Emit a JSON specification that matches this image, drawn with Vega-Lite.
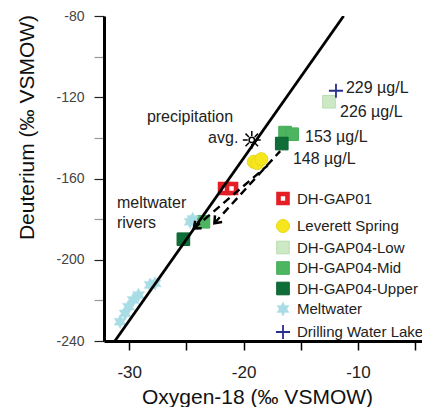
{
  "$schema": "https://vega.github.io/schema/vega-lite/v6.json",
  "width": 318,
  "height": 325,
  "autosize": {"type": "none"},
  "padding": {"left": 104, "top": 16, "right": 0, "bottom": 66},
  "background": "white",
  "config": {
    "view": {"stroke": null},
    "font": "Liberation Sans",
    "axis": {"grid": false, "labelFont": "Liberation Sans", "titleFont": "Liberation Sans"},
    "legend": {"padding": 0, "orient": "none", "legendX": 171, "legendY": 175, "title": null,
      "labelFontSize": 15, "labelFont": "Liberation Sans", "labelColor": "#222",
      "labelOffset": 6, "rowPadding": 3.5, "labelLimit": 300}
  },
  "datasets": {
    "points": [
      {"series": "DH-GAP01", "d18O": -21.66, "dD": -164.9},
      {"series": "DH-GAP01", "d18O": -21.05, "dD": -164.9},
      {"series": "Leverett Spring", "d18O": -19.1, "dD": -151.8},
      {"series": "Leverett Spring", "d18O": -18.8, "dD": -152.4},
      {"series": "Leverett Spring", "d18O": -18.45, "dD": -150.5},
      {"series": "DH-GAP04-Low", "d18O": -12.53, "dD": -122.2},
      {"series": "DH-GAP04-Mid", "d18O": -16.37, "dD": -137.4},
      {"series": "DH-GAP04-Mid", "d18O": -15.75, "dD": -138.2},
      {"series": "DH-GAP04-Mid", "d18O": -23.51, "dD": -181.3},
      {"series": "DH-GAP04-Upper", "d18O": -16.66, "dD": -142.8},
      {"series": "DH-GAP04-Upper", "d18O": -25.26, "dD": -189.9},
      {"series": "Meltwater", "d18O": -24.67, "dD": -181.3},
      {"series": "Meltwater", "d18O": -24.45, "dD": -180.0},
      {"series": "Meltwater", "d18O": -28.17, "dD": -212.4},
      {"series": "Meltwater", "d18O": -27.73, "dD": -211.6},
      {"series": "Meltwater", "d18O": -29.19, "dD": -217.4},
      {"series": "Meltwater", "d18O": -29.65, "dD": -219.8},
      {"series": "Meltwater", "d18O": -30.06, "dD": -223.1},
      {"series": "Meltwater", "d18O": -30.35, "dD": -226.4},
      {"series": "Meltwater", "d18O": -30.79, "dD": -230.5},
      {"series": "Drilling Water Lake", "d18O": -11.92, "dD": -116.8}
    ],
    "mwl": [
      {"d18O": -31.25, "dD": -240},
      {"d18O": -11.25, "dD": -80}
    ],
    "arrows": [
      {"arrow": "A", "pos": "start", "d18O": -16.8, "dD": -146.5},
      {"arrow": "A", "pos": "end", "d18O": -22.55, "dD": -182.0},
      {"arrow": "B", "pos": "start", "d18O": -17.9, "dD": -153.6},
      {"arrow": "B", "pos": "end", "d18O": -24.35, "dD": -184.6}
    ],
    "precip": [
      {"d18O": -19.28, "dD": -141.0}
    ],
    "labels": [
      {"text": "precipitation", "d18O": -28.45, "dD": -129.7},
      {"text": "avg.", "d18O": -23.1, "dD": -140.1},
      {"text": "229 µg/L", "d18O": -11.05, "dD": -115.4},
      {"text": "226 µg/L", "d18O": -11.57, "dD": -127.1},
      {"text": "153 µg/L", "d18O": -14.63, "dD": -139.4},
      {"text": "148 µg/L", "d18O": -15.68, "dD": -150.6},
      {"text": "meltwater", "d18O": -31.07, "dD": -172.1},
      {"text": "rivers", "d18O": -31.07, "dD": -182.1}
    ]
  },
  "layer": [
    {
      "data": {"name": "points"},
      "mark": {"type": "point", "opacity": 1},
      "encoding": {
        "x": {
          "field": "d18O", "type": "quantitative",
          "scale": {"domain": [-32.2, -4.4], "nice": false, "zero": false},
          "axis": {
            "title": "Oxygen-18 (‰ VSMOW)",
            "values": [-30, -25, -20, -15, -10, -5],
            "labelExpr": "datum.value % 10 === 0 ? '' + datum.value : ''",
            "labelFlush": false, "labelOverlap": false,
            "domainColor": "black", "domainWidth": 3,
            "tickColor": "black", "tickWidth": 1.5, "tickSize": 9,
            "labelFontSize": 17, "labelColor": "#222", "labelPadding": 14,
            "titleFontSize": 21, "titleFontWeight": "normal", "titleColor": "#111",
            "titleX": 153, "titleY": 62, "titleBaseline": "alphabetic", "titleAlign": "center"
          }
        },
        "y": {
          "field": "dD", "type": "quantitative",
          "scale": {"domain": [-240, -80], "nice": false, "zero": false},
          "axis": {
            "title": "Deuterium (‰ VSMOW)",
            "values": [-240, -220, -200, -180, -160, -140, -120, -100, -80],
            "labelExpr": "datum.value % 40 === 0 ? '' + datum.value : ''",
            "labelFlush": false, "labelOverlap": false,
            "domainColor": "black", "domainWidth": 3,
            "tickColor": {"condition": {"test": "datum.value % 40 === 0", "value": "#222"}, "value": "#999"},
            "tickWidth": 1.2, "tickSize": 10,
            "labelFontSize": 14, "labelColor": "#444", "labelPadding": 10,
            "titleFontSize": 21, "titleFontWeight": "normal", "titleColor": "#111",
            "titleX": -77, "titleY": 111, "titleBaseline": "middle", "titleAlign": "center", "titleAngle": -90
          }
        },
        "shape": {
          "field": "series", "type": "ordinal",
          "scale": {
            "domain": ["DH-GAP01", "Leverett Spring", "DH-GAP04-Low", "DH-GAP04-Mid", "DH-GAP04-Upper", "Meltwater", "Drilling Water Lake"],
            "range": ["square", "circle", "square", "square", "square",
              "M0,-1L0.275,-0.476L0.866,-0.5L0.55,0L0.866,0.5L0.275,0.476L0,1L-0.275,0.476L-0.866,0.5L-0.55,0L-0.866,-0.5L-0.275,-0.476Z",
              "M-1,0H1M0,-1V1"]
          }
        },
        "fill": {
          "field": "series", "type": "ordinal",
          "scale": {
            "domain": ["DH-GAP01", "Leverett Spring", "DH-GAP04-Low", "DH-GAP04-Mid", "DH-GAP04-Upper", "Meltwater", "Drilling Water Lake"],
            "range": ["#ffffff", "#f5e61e", "#cde8c5", "#4db560", "#0f6e37", "#a9dde6", "transparent"]
          }
        },
        "stroke": {
          "field": "series", "type": "ordinal",
          "scale": {
            "domain": ["DH-GAP01", "Leverett Spring", "DH-GAP04-Low", "DH-GAP04-Mid", "DH-GAP04-Upper", "Meltwater", "Drilling Water Lake"],
            "range": ["#e31e24", "#e8d81a", "#b9dcb0", "#45ad58", "#0b6432", "#a9dde6", "#2a2f8c"]
          }
        },
        "size": {
          "field": "series", "type": "ordinal",
          "scale": {
            "type": "ordinal",
            "domain": ["DH-GAP01", "Leverett Spring", "DH-GAP04-Low", "DH-GAP04-Mid", "DH-GAP04-Upper", "Meltwater", "Drilling Water Lake"],
            "range": [81, 170, 160, 160, 160, 190, 200]
          }
        },
        "strokeWidth": {
          "field": "series", "type": "ordinal",
          "scale": {
            "type": "ordinal",
            "domain": ["DH-GAP01", "Leverett Spring", "DH-GAP04-Low", "DH-GAP04-Mid", "DH-GAP04-Upper", "Meltwater", "Drilling Water Lake"],
            "range": [4.6, 1, 1, 1, 1, 0.5, 1.8]
          }
        }
      }
    },
    {
      "data": {"name": "precip"},
      "mark": {"type": "point", "shape": "M0,-1V-0.45M0,0.45V1M-1,0H-0.45M0.45,0H1M-0.7,-0.7L-0.32,-0.32M0.32,0.32L0.7,0.7M-0.7,0.7L-0.32,0.32M0.32,-0.32L0.7,-0.7M0.3,0A0.3,0.3 0 1 1 -0.3,0A0.3,0.3 0 1 1 0.3,0", "filled": false, "stroke": "black", "strokeWidth": 1.5, "size": 320, "opacity": 1},
      "encoding": {
        "x": {"field": "d18O", "type": "quantitative"},
        "y": {"field": "dD", "type": "quantitative"}
      }
    },
    {
      "data": {"name": "mwl"},
      "mark": {"type": "line", "color": "black", "strokeWidth": 2.8, "clip": true},
      "encoding": {
        "x": {"field": "d18O", "type": "quantitative"},
        "y": {"field": "dD", "type": "quantitative"}
      }
    },
    {
      "data": {"name": "arrows"},
      "mark": {"type": "line", "color": "black", "strokeWidth": 2.4, "strokeDash": [8, 5]},
      "encoding": {
        "x": {"field": "d18O", "type": "quantitative"},
        "y": {"field": "dD", "type": "quantitative"},
        "detail": {"field": "arrow", "type": "nominal"}
      }
    },
    {
      "data": {"name": "arrows"},
      "transform": [{"filter": "datum.pos === 'end' && datum.arrow === 'A'"}],
      "mark": {"type": "point", "shape": "M-0.8,1L0,0L0.8,1", "filled": false, "stroke": "black", "strokeWidth": 2.5, "size": 150, "angle": 223, "opacity": 1},
      "encoding": {
        "x": {"field": "d18O", "type": "quantitative"},
        "y": {"field": "dD", "type": "quantitative"}
      }
    },
    {
      "data": {"name": "arrows"},
      "transform": [{"filter": "datum.pos === 'end' && datum.arrow === 'B'"}],
      "mark": {"type": "point", "shape": "M-0.8,1L0,0L0.8,1", "filled": false, "stroke": "black", "strokeWidth": 2.5, "size": 150, "angle": 229, "opacity": 1},
      "encoding": {
        "x": {"field": "d18O", "type": "quantitative"},
        "y": {"field": "dD", "type": "quantitative"}
      }
    },
    {
      "data": {"name": "labels"},
      "mark": {"type": "text", "align": "left", "baseline": "middle", "fontSize": 16, "color": "#222", "font": "Liberation Sans"},
      "encoding": {
        "x": {"field": "d18O", "type": "quantitative"},
        "y": {"field": "dD", "type": "quantitative"},
        "text": {"field": "text", "type": "nominal"}
      }
    },
    {
      "mark": {"type": "rule", "color": "black", "strokeWidth": 3},
      "encoding": {
        "y": {"datum": -80}
      }
    }
  ]
}
